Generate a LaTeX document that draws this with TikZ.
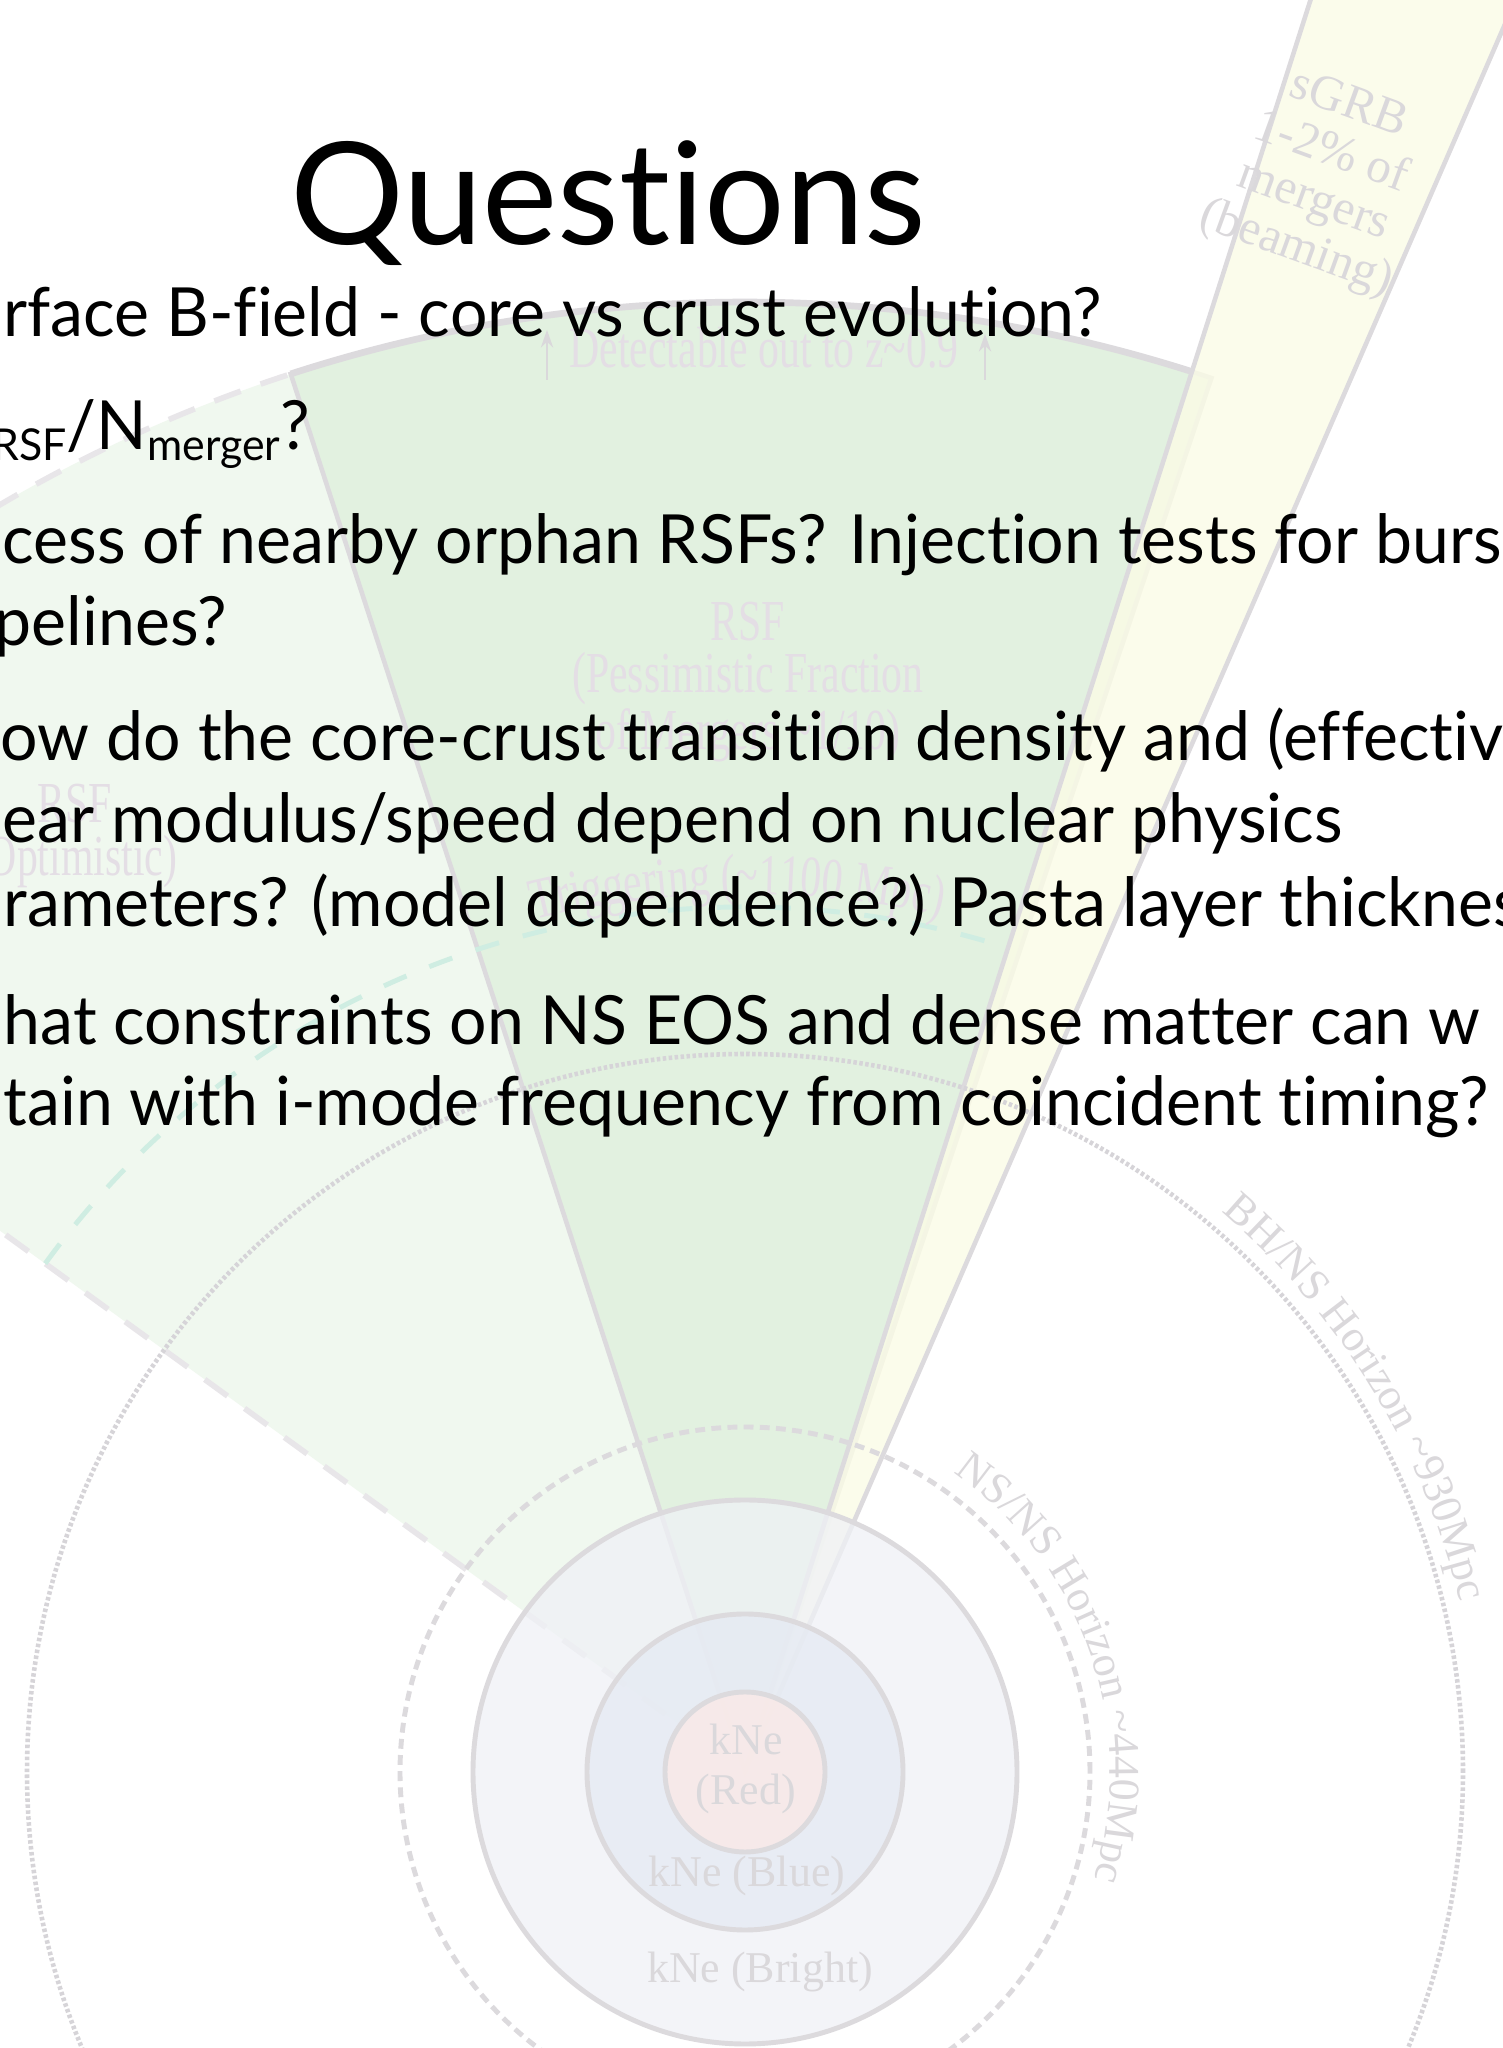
\documentclass[tikz,border=0pt]{standalone}
\usepackage{fontspec}
\setmainfont{Lato}[Ligatures={NoCommon,NoRare},FakeStretch=0.975]
\newfontfamily\titlefont{Lato}[Ligatures={NoCommon,NoRare}]
\newfontfamily\lblfont{Liberation Serif}
\newfontfamily\condfont[FakeStretch=0.72]{Liberation Serif}
\usetikzlibrary{decorations.text,arrows.meta}

\definecolor{edgegray}{RGB}{220,218,221}
\definecolor{dotgray}{RGB}{214,212,216}
\definecolor{optgray}{RGB}{232,230,233}
\definecolor{lblgray}{RGB}{218,216,219}
\definecolor{rsfgray}{RGB}{228,222,229}
\definecolor{optfill}{RGB}{240,248,239}
\definecolor{pessfill}{RGB}{226,241,224}
\definecolor{grbfill}{RGB}{251,252,230}
\definecolor{brightfill}{RGB}{239,241,246}
\definecolor{bluefill}{RGB}{229,234,243}
\definecolor{redfill}{RGB}{252,233,230}
\definecolor{trigteal}{RGB}{207,237,226}

\begin{document}
\begin{tikzpicture}[x=0.1mm,y=0.1mm,
	edge/.style={draw=edgegray,line width=1.3pt},
	ring/.style={draw=edgegray,line width=1.4pt,fill opacity=0.75},
	nsns/.style={draw=edgegray,line width=1.4pt,dash pattern=on 2.8pt off 1.8pt},
	bhns/.style={draw=dotgray,line width=1.3pt,dash pattern=on 1pt off 0.7pt},
	optdash/.style={draw=optgray,line width=1.6pt,dash pattern=on 8pt off 6pt},
	trigdash/.style={draw=trigteal,line width=1.4pt,dash pattern=on 7pt off 7pt},
	lbl/.style={text=lblgray,font=\lblfont\fontsize{12.5}{14}\selectfont,align=center,inner sep=0pt},
	cond/.style={text=rsfgray,font=\condfont\fontsize{16.5}{15}\selectfont,align=center,inner sep=0pt},
	qline/.style={anchor=base west,inner sep=0pt,font=\fontsize{19.3}{23}\selectfont}]
	\useasboundingbox (0,0) rectangle (1503,2048);
	\fill[white] (0,0) rectangle (1503,2048);
	\begin{scope}
		\clip (0,0) rectangle (1503,2048);
		\begin{scope}[shift={(745,276)}]
			\fill[optfill] (0,0) -- (144:147mm) arc[start angle=144,end angle=71.5,radius=147mm] -- cycle;
			\draw[optdash] (0,0) -- (144:147mm) arc[start angle=144,end angle=108,radius=147mm];
			\fill[pessfill] (0,0) -- (108:147mm) arc[start angle=108,end angle=71.5,radius=147mm] -- cycle;
			\draw[edge] (0,0) -- (108:147mm) arc[start angle=108,end angle=71.5,radius=147mm] -- cycle;
			\draw[edge,line width=1.9pt] (108:147mm) arc[start angle=108,end angle=72.3,radius=147mm];
			\fill[grbfill,fill opacity=0.8] (0,0) -- (72.3:260mm) -- (66.5:260mm) -- cycle;
			\draw[edge] (72.3:260mm) -- (0,0) -- (66.5:260mm);
			\draw[trigdash] (144:86.5mm) arc[start angle=144,end angle=73,radius=86.5mm];
			\draw[bhns] (0,0) circle[radius=71.8mm];
			\draw[nsns] (0,0) circle[radius=34.5mm];
			\filldraw[ring,fill=brightfill] (0,0) circle[radius=27.2mm];
			\filldraw[ring,fill=bluefill] (0,0) circle[radius=15.8mm];
			\filldraw[ring,fill=redfill] (0,0) circle[radius=8mm];
			\path[decorate,decoration={text along path,text align=center,text color=lblgray,
				text={|\lblfont\fontsize{12.5}{14}\selectfont|NS/NS Horizon {\textasciitilde}440Mpc}}]
				(70:36.5mm) arc[start angle=70,end angle=-32,radius=36.5mm];
			\path[decorate,decoration={text along path,text align=center,text color=lblgray,
				text={|\lblfont\fontsize{12.5}{14}\selectfont|BH/NS Horizon {\textasciitilde}930Mpc}}]
				(65:73.5mm) arc[start angle=65,end angle=-2,radius=73.5mm];
			\path[decorate,decoration={text along path,text align=center,text color=rsfgray,
				text={|\condfont\fontsize{16.5}{18}\selectfont|Triggering ({\textasciitilde}1100 Mpc)}}]
				(135:87.8mm) arc[start angle=135,end angle=46,radius=87.8mm];
		\end{scope}
		\coordinate (arrL) at (547,1668);
		\coordinate (tipL) at (547,1718);
		\coordinate (arrR) at (985,1668);
		\coordinate (tipR) at (985,1714);
		\draw[draw=lblgray,line width=0.6pt,-{Stealth[length=5pt,width=3.5pt]}] (arrL) -- (tipL);
		\draw[draw=lblgray,line width=0.6pt,-{Stealth[length=5pt,width=3.5pt]}] (arrR) -- (tipR);
		\node[cond] (detect) at (764,1700) {Detectable out to z{\textasciitilde}0.9};
		\node[cond] (rsfpess) at (748,1366) {RSF\\(Pessimistic Fraction\\of Mergers {\textasciitilde}1/10)};
		\node[cond] (rsfopt) at (75,1212) {RSF\\(Optimistic)};
		\node[lbl,rotate=-20,font=\lblfont\fontsize{14}{14.5}\selectfont] (sgrb) at (1322,1870) {sGRB\\1-2\% of\\mergers\\(beaming)};
		\node[lbl] (knered) at (746,279) {kNe\\(Red)};
		\node[lbl] (kneblue) at (747,172) {kNe (Blue)};
		\node[lbl] (knebright) at (760,76) {kNe (Bright)};
		\node[anchor=base,inner sep=0pt,font=\titlefont\fontsize{40.5}{41}\selectfont] (title) at (608,1803) {Questions};
		\node[qline] (q1) at (3,1711) {rface B-field - core vs crust evolution?};
		\node[qline] (q2) at (-8,1598) {\raisebox{-3pt}{\fontsize{12.5}{13}\selectfont RSF}/N\raisebox{-3pt}{\fontsize{12.5}{13}\selectfont merger}?};
		\node[qline] (q3) at (2,1484) {cess of nearby orphan RSFs? Injection tests for burs};
		\node[qline] (q4) at (-6,1402) {pelines?};
		\node[qline] (q5) at (0,1287) {ow do the core-crust transition density and (effectiv};
		\node[qline] (q6) at (2,1205) {ear modulus/speed depend on nuclear physics};
		\node[qline] (q7) at (3,1121) {rameters? (model dependence?) Pasta layer thicknes};
		\node[qline] (q8) at (3,1003) {hat constraints on NS EOS and dense matter can w};
		\node[qline] (q9) at (3,922) {tain with i-mode frequency from coincident timing?};
	\end{scope}
\end{tikzpicture}
\end{document}
